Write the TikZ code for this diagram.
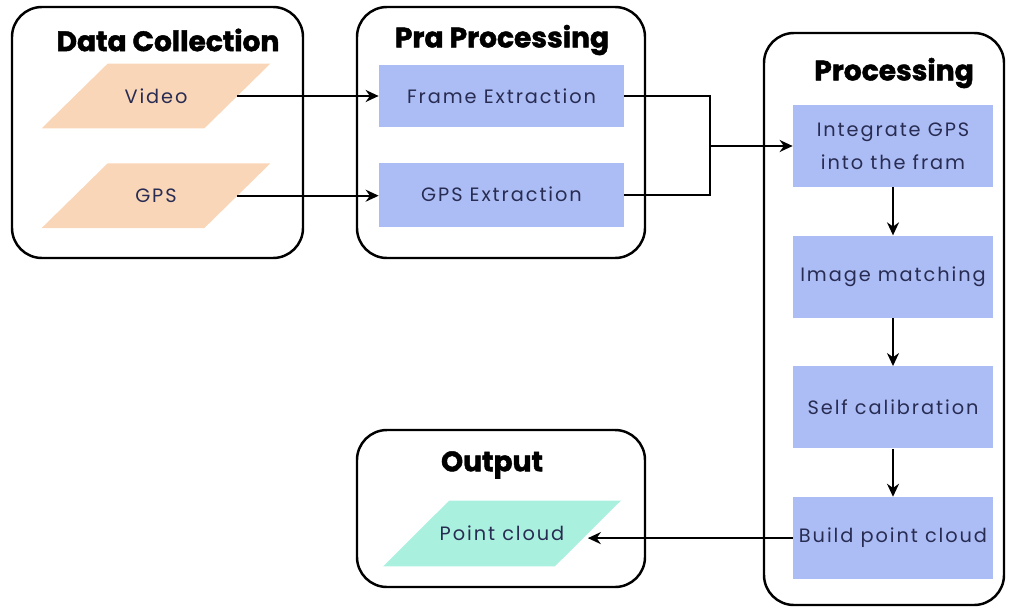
\documentclass[tikz,border=0pt]{standalone}
\usepackage{fontspec}
\usepackage{xcolor}
\usepackage{tikz}
\usetikzlibrary{shapes.geometric, arrows.meta, positioning, calc, backgrounds}
\newfontfamily\bodyfont{Poppins}[LetterSpace=10]
\newfontfamily\headfont{Poppins}[BoldFeatures={FakeBold=1.6}]
\definecolor{peach}{RGB}{250, 214, 184}
\definecolor{periwinkle}{RGB}{172, 189, 245}
\definecolor{mint}{RGB}{170, 240, 222}
\definecolor{inktext}{RGB}{40, 44, 82}
\tikzset{
  stagebox/.style={
    rectangle, rounded corners=0.6cm, draw=black, line width=1.4pt
  },
  stagetitle/.style={
    font=\headfont\bfseries\fontsize{16}{18}\selectfont, text=black
  },
  stepblock/.style={
    rectangle, fill=periwinkle, align=center, inner sep=2pt,
    font=\bodyfont\fontsize{11}{19}\selectfont, text=inktext
  },
  datablock/.style={
    rectangle, minimum width=3.24cm, minimum height=1.28cm, inner sep=1pt,
    font=\bodyfont\fontsize{11}{19}\selectfont, text=inktext
  },
  flowline/.style={
    draw=black, -{Stealth[length=2.6mm, width=2.4mm]}, line width=1.1pt
  },
  plainline/.style={
    draw=black, line width=1.1pt
  }
}

\begin{document}
\begin{tikzpicture}
  \useasboundingbox (0,0) rectangle (20.26,-12.18);

  % Stage containers
  \node[stagebox, minimum width=5.82cm, minimum height=5.02cm] (collect) at (3.15,-2.65) {};
  \node[stagebox, minimum width=5.76cm, minimum height=5.02cm] (prep) at (10.02,-2.65) {};
  \node[stagebox, minimum width=4.80cm, minimum height=11.44cm] (proc) at (17.68,-6.38) {};
  \node[stagebox, minimum width=5.76cm, minimum height=3.14cm] (output) at (10.02,-10.17) {};

  % Stage titles
  \node[stagetitle] (collect_title) at (3.36,-0.80) {Data Collection};
  \node[stagetitle] (prep_title) at (10.04,-0.80) {Pra Processing};
  \node[stagetitle] (proc_title) at (17.88,-1.46) {Processing};
  \node[stagetitle] (output_title) at (9.84,-9.30) {Output};

  % Data Collection
  \node[datablock] (video) at (3.12,-1.92) {Video};
  \node[datablock, below=0.70cm of video] (gps_in) {GPS};

  % Pra Processing
  \node[stepblock, minimum width=4.9cm, minimum height=1.24cm] (frame) at (10.03,-1.92) {Frame Extraction};
  \node[stepblock, minimum width=4.9cm, minimum height=1.28cm, below=0.7cm of frame] (gps_ext) {GPS Extraction};

  % Processing chain
  \node[stepblock, minimum width=4.0cm, minimum height=1.64cm] (integrate) at (17.86,-2.92) {Integrate GPS\\into the fram};
  \node[stepblock, minimum width=4.0cm, minimum height=1.64cm, below=0.96cm of integrate] (matching) {Image matching};
  \node[stepblock, minimum width=4.0cm, minimum height=1.64cm, below=0.96cm of matching] (calib) {Self calibration};
  \node[stepblock, minimum width=4.0cm, minimum height=1.64cm, below=0.96cm of calib] (build) {Build point cloud};

  % Output
  \node[datablock, minimum width=3.42cm, minimum height=1.30cm] (cloud) at (10.04,-10.67) {Point cloud};

  % Slanted data shapes behind the text
  \begin{scope}[on background layer]
    \foreach \blk/\col in {video/peach, gps_in/peach, cloud/mint}
      \fill[\col] ($(\blk.south west)+(-0.66,0)$) -- ($(\blk.south east)+(-0.66,0)$)
        -- ($(\blk.north east)+(0.66,0)$) -- ($(\blk.north west)+(0.66,0)$) -- cycle;
  \end{scope}

  % Connectors
  \draw[flowline] (video.east) -- (video.east -| frame.west);
  \draw[flowline] (gps_in.east) -- (gps_in.east -| gps_ext.west);

  \coordinate (merge) at ($(integrate.west -| 0,0)+(14.2,0)$);
  \draw[plainline] (frame.east) -| (merge);
  \draw[plainline] (gps_ext.east) -| (merge);
  \draw[flowline] (merge) -- (integrate.west);

  \draw[flowline] (integrate) -- (matching);
  \draw[flowline] (matching) -- (calib);
  \draw[flowline] (calib) -- (build);

  \draw[flowline] (build.west) -- (build.west -| cloud.east);

\end{tikzpicture}
\end{document}
